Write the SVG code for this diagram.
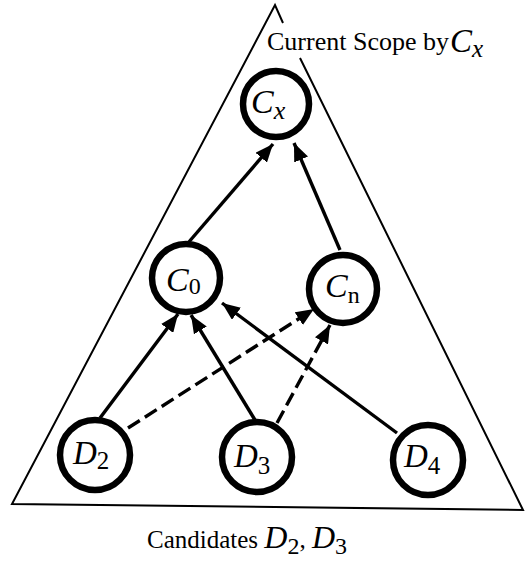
<svg xmlns="http://www.w3.org/2000/svg" width="525" height="562" viewBox="0 0 525 562">
<style>
.node{fill:#fff;stroke:#000;stroke-width:6.5}
.edge{stroke:#000;stroke-width:3.4;fill:none}
.dash{stroke-dasharray:14 6}
.frame{stroke:#000;stroke-width:2;fill:none}
.t{font-family:"Liberation Serif","Times New Roman",serif;fill:#000}
.it{font-style:italic}
</style>
<defs>
<marker id="ah" markerUnits="userSpaceOnUse" markerWidth="19" markerHeight="15" refX="18" refY="7.5" orient="auto">
<path d="M0,0 L18,7.5 L0,15 z" fill="#000"/>
</marker>
</defs>
<rect width="525" height="562" fill="#fff"/>
<g id="frame">
<path class="frame" d="M283,23 L275,5 L12,504 L523,510 L300,58"/>
</g>
<g id="connectors">
<line class="edge" x1="188" y1="243" x2="273" y2="144" marker-end="url(#ah)"/>
<line class="edge" x1="340" y1="250" x2="294" y2="143" marker-end="url(#ah)"/>
<line class="edge" x1="100" y1="418" x2="178" y2="314" marker-end="url(#ah)"/>
<line class="edge" x1="255" y1="420" x2="191" y2="315" marker-end="url(#ah)"/>
<line class="edge" x1="397" y1="433" x2="222" y2="303" marker-end="url(#ah)"/>
<line class="edge dash" x1="128" y1="428" x2="314" y2="309" marker-end="url(#ah)"/>
<line class="edge dash" x1="277" y1="423" x2="330" y2="325" marker-end="url(#ah)"/>
</g>
<g id="Cx">
<circle class="node" cx="276" cy="104" r="33"/>
<text class="t" x="251" y="113"><tspan class="it" font-size="34">C</tspan><tspan class="it" font-size="26" dy="6">x</tspan></text>
</g>
<g id="C0">
<circle class="node" cx="186" cy="278" r="34"/>
<text class="t" x="166" y="291"><tspan class="it" font-size="34">C</tspan><tspan font-size="24" dy="3">0</tspan></text>
</g>
<g id="Cn">
<circle class="node" cx="343" cy="289" r="34"/>
<text class="t" x="325" y="297"><tspan class="it" font-size="34">C</tspan><tspan font-size="24" dy="6">n</tspan></text>
</g>
<g id="D2">
<circle class="node" cx="95" cy="455" r="35"/>
<text class="t" x="73" y="464"><tspan class="it" font-size="33">D</tspan><tspan font-size="25" dy="5">2</tspan></text>
</g>
<g id="D3">
<circle class="node" cx="257" cy="457" r="35"/>
<text class="t" x="234" y="467"><tspan class="it" font-size="33">D</tspan><tspan font-size="25" dy="7">3</tspan></text>
</g>
<g id="D4">
<circle class="node" cx="428" cy="460" r="35"/>
<text class="t" x="404" y="467"><tspan class="it" font-size="33">D</tspan><tspan font-size="25" dy="7">4</tspan></text>
</g>
<g id="labels">
<text class="t" x="267" y="50" font-size="26">Current Scope by<tspan class="it" font-size="33" dx="1" dy="2">C</tspan><tspan class="it" font-size="25" dy="5">x</tspan></text>
<text class="t" x="147" y="548" font-size="25">Candidates <tspan class="it" font-size="32">D</tspan><tspan font-size="24" dy="6">2</tspan><tspan dy="-6">, </tspan><tspan class="it" font-size="32">D</tspan><tspan font-size="24" dy="6">3</tspan></text>
</g>
</svg>
